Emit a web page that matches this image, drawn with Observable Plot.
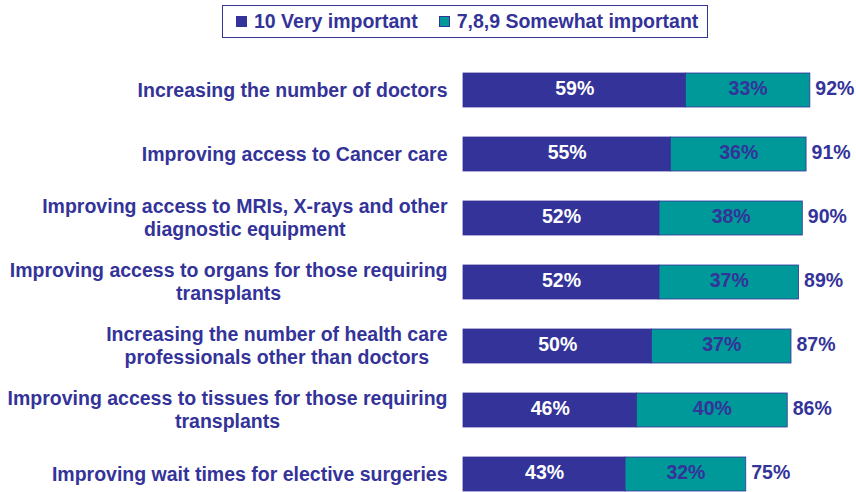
<!DOCTYPE html>
<html>
<head>
<meta charset="utf-8">
<script src="https://cdn.jsdelivr.net/npm/d3@7"></script>
<script src="https://cdn.jsdelivr.net/npm/@observablehq/plot@0.6"></script>
<style>
  html, body { margin: 0; padding: 0; background: #fff; overflow: hidden; }
  body { width: 856px; height: 492px; position: relative; font-family: "Liberation Sans", Arial, sans-serif; }
  #legend { position: relative; height: 42px; }
  #legend .box { position: absolute; left: 222px; top: 5px; width: 484px; height: 31px; border: 1px solid #333399;
    display: flex; align-items: center; font-weight: bold; font-size: 19.5px; color: #333399; box-sizing: content-box; }
  #legend .sw { display: inline-block; margin-right: 7px; box-sizing: border-box; }
  #legend .item { display: flex; align-items: center; white-space: nowrap; }
  #chart svg { display: block; }
</style>
</head>
<body>
<div id="legend"></div>
<div id="chart"></div>
<script>
const categories = [
  "Increasing the number of doctors",
  "Improving access to Cancer care",
  "Improving access to MRIs, X-rays and other\ndiagnostic equipment",
  "Improving access to organs for those requiring\ntransplants",
  "Increasing the number of health care\nprofessionals other than doctors",
  "Improving access to tissues for those requiring\ntransplants",
  "Improving wait times for elective surgeries"
];
const seriesNames = ["10 Very important", "7,8,9 Somewhat important"];
const veryImportant = [59, 55, 52, 52, 50, 46, 43];
const somewhatImportant = [33, 36, 38, 37, 37, 40, 32];
const totals = [92, 91, 90, 89, 87, 86, 75];
const colors = ["#333399", "#009999"];
const labelColors = ["#ffffff", "#333399"];
const navy = "#333399";

const long = [];
categories.forEach((c, i) => {
  long.push({category: c, series: seriesNames[0], value: veryImportant[i]});
  long.push({category: c, series: seriesNames[1], value: somewhatImportant[i]});
});
const totalRows = categories.map((c, i) => ({category: c, total: totals[i]}));

// legend
const legend = document.getElementById("legend");
const box = document.createElement("div");
box.className = "box";
seriesNames.forEach((s, i) => {
  const item = document.createElement("div");
  item.className = "item";
  item.style.marginLeft = i === 0 ? "13px" : "21px";
  const sw = document.createElement("span");
  sw.className = "sw";
  sw.style.background = colors[i];
  sw.style.border = "1px solid " + navy;
  sw.style.width = "11px"; sw.style.height = "11px";
  item.appendChild(sw);
  item.appendChild(document.createTextNode(s));
  box.appendChild(item);
});
legend.appendChild(box);

const FS = 19.5;
const chart = Plot.plot({
  width: 856,
  height: 450,
  marginLeft: 463,
  marginRight: 16,
  marginTop: 29,
  marginBottom: 0,
  style: {fontFamily: '"Liberation Sans", Arial, sans-serif', background: "#fff"},
  x: {domain: [0, 100], axis: null},
  y: {domain: categories, paddingInner: 0.473, paddingOuter: 0, label: null},
  color: {domain: seriesNames, range: colors},
  marks: [
    Plot.barX(long, Plot.stackX({x: "value", y: "category", fill: "series", stroke: navy, strokeWidth: 0.8, order: seriesNames})),
    Plot.text(long, Plot.stackX({x: "value", y: "category", order: seriesNames,
      text: d => d.value + "%",
      fill: d => labelColors[seriesNames.indexOf(d.series)],
      fontSize: FS, fontWeight: "bold", dy: -1.5})),
    Plot.text(totalRows, {x: "total", y: "category", text: d => d.total + "%", textAnchor: "start", dx: 5, dy: -1.5,
      fill: navy, fontSize: FS, fontWeight: "bold"}),
    Plot.axisY({tickSize: 0, tickPadding: 16, fontSize: FS, fontWeight: "bold", fill: navy, lineHeight: 1.18, dy: -1, label: null})
  ]
});
document.getElementById("chart").appendChild(chart);

// center secondary lines under the first line (right aligned block)
chart.querySelectorAll('[aria-label="y-axis tick label"] text').forEach(t => {
  const spans = t.querySelectorAll("tspan");
  if (spans.length < 2) return;
  const widths = Array.from(spans).map(s => s.getComputedTextLength());
  const W = Math.max(...widths);
  spans.forEach((s, k) => s.setAttribute("x", -(W - widths[k]) / 2));
});
</script>
</body>
</html>
